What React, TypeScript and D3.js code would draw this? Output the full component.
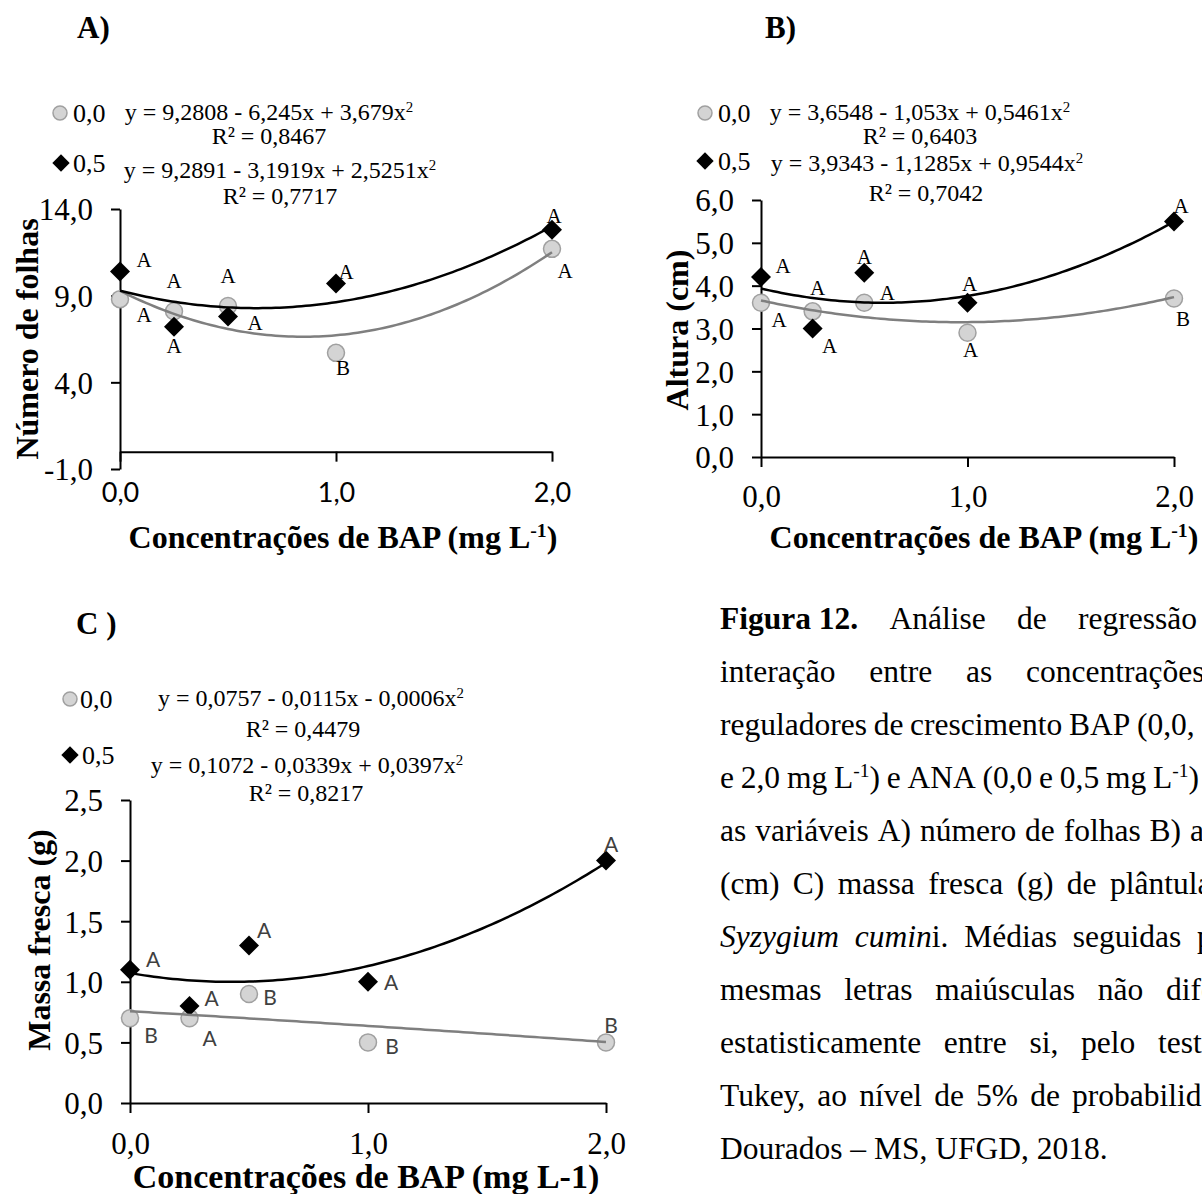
import { useRef, useEffect } from 'react';
import * as d3 from 'd3';

const SERIF = '"Liberation Serif", "Times New Roman", serif';
const SANS = 'Lato, "Open Sans", sans-serif';

// doses de BAP (mg L-1)
const bap = [0, 0.25, 0.5, 1, 2];

// A) número de folhas
const folhas00 = [8.8, 8.1, 8.4, 5.7, 11.7];
const folhas05 = [10.4, 7.2, 7.8, 9.7, 12.8];
const folhasLetras00 = ['A', 'A', 'A', 'B', 'A'];
const folhasLetras05 = ['A', 'A', 'A', 'A', 'A'];
const folhasFit00 = [9.2808, -6.245, 3.679];
const folhasFit05 = [9.2891, -3.1919, 2.5251];
const folhasEq00 = ['y = 9,2808 - 6,245x + 3,679x^2^', 'R² = 0,8467'];
const folhasEq05 = ['y = 9,2891 - 3,1919x + 2,5251x^2^', 'R² = 0,7717'];
const folhasTicks = [-1, 4, 9, 14];

// B) altura
const altura00 = [3.6, 3.4, 3.6, 2.9, 3.7];
const altura05 = [4.2, 3.0, 4.3, 3.6, 5.5];
const alturaLetras00 = ['A', 'A', 'A', 'A', 'B'];
const alturaLetras05 = ['A', 'A', 'A', 'A', 'A'];
const alturaFit00 = [3.6548, -1.053, 0.5461];
const alturaFit05 = [3.9343, -1.1285, 0.9544];
const alturaEq00 = ['y = 3,6548 - 1,053x + 0,5461x^2^', 'R² = 0,6403'];
const alturaEq05 = ['y = 3,9343 - 1,1285x + 0,9544x^2^', 'R² = 0,7042'];
const alturaTicks = [0, 1, 2, 3, 4, 5, 6];

// C) massa fresca (curvas no gráfico estão em escala x10 das equações)
const massa00 = [0.7, 0.7, 0.9, 0.5, 0.5];
const massa05 = [1.1, 0.8, 1.3, 1.0, 2.0];
const massaLetras00 = ['B', 'A', 'B', 'B', 'B'];
const massaLetras05 = ['A', 'A', 'A', 'A', 'A'];
const massaFit00 = [0.757, -0.115, -0.006];
const massaFit05 = [1.072, -0.339, 0.397];
const massaEq00 = ['y = 0,0757 - 0,0115x - 0,0006x^2^', 'R² = 0,4479'];
const massaEq05 = ['y = 0,1072 - 0,0339x + 0,0397x^2^', 'R² = 0,8217'];
const massaTicks = [0, 0.5, 1, 1.5, 2, 2.5];

const xTicks = [0, 1, 2];

const captionLines = [
  ['**Figura 12.**', 'Análise', 'de', 'regressão'],
  ['interação', 'entre', 'as', 'concentrações'],
  ['reguladores', 'de', 'crescimento', 'BAP', '(0,0,'],
  ['e', '2,0', 'mg', 'L^-1^)', 'e', 'ANA', '(0,0', 'e', '0,5', 'mg', 'L^-1^)'],
  ['as', 'variáveis', 'A)', 'número', 'de', 'folhas', 'B)', 'altura'],
  ['(cm)', 'C)', 'massa', 'fresca', '(g)', 'de', 'plântulas'],
  ['_Syzygium_', '_cumin_i.', 'Médias', 'seguidas', 'pelas'],
  ['mesmas', 'letras', 'maiúsculas', 'não', 'diferem'],
  ['estatisticamente', 'entre', 'si,', 'pelo', 'teste'],
  ['Tukey,', 'ao', 'nível', 'de', '5%', 'de', 'probabilidade'],
  ['Dourados – MS, UFGD, 2018.'],
];

// justified lines: where the last visible word starts (null = single run)
const captionLastX = [1078, 1026, 1137, 1153, 1190, 1110, 1197, 1166, 1158, 1072, null];
const CAPTION_SIZE = 31.5;

const fmt = (v: number) => d3.format('.1f')(v).replace('.', ',').replace('−', '-');
const poly = (c: number[], v: number) => c[0] + c[1] * v + c[2] * v * v;

// **bold**, _italic_, ^superscript^
function rich(text: any, str: string, size: number) {
  const parts = str.split(/(\*\*[^*]+\*\*|_[^_]+_|\^[^^]+\^)/).filter(s => s !== '');
  let raised = false;
  parts.forEach(s => {
    const t = text.append('tspan');
    if (s.startsWith('**')) t.attr('font-weight', 'bold').text(s.slice(2, -2));
    else if (s.startsWith('_')) t.attr('font-style', 'italic').text(s.slice(1, -1));
    else if (s.startsWith('^')) {
      t.attr('font-size', size * 0.62).attr('dy', -size * 0.36).text(s.slice(1, -1));
      raised = true;
      return;
    } else t.text(s);
    if (raised) { t.attr('dy', size * 0.36); raised = false; }
  });
}

const panels = [
  {
    tag: 'A)', tagX: 77, tagY: 27,
    xRange: [120, 552], yDomain: [-1, 14], yRange: [469, 209], yTicks: folhasTicks, xAxisAt: 0,
    xTickFont: SANS, xTickSize: 27, xLabelY: 493,
    letterFont: SERIF, letterColor: '#000',
    s00: folhas00, s05: folhas05, l00: folhasLetras00, l05: folhasLetras05,
    fit00: folhasFit00, fit05: folhasFit05, eq00: folhasEq00, eq05: folhasEq05,
    off00: [[24, 16], [0, -31], [0, -30], [7, 15], [13, 22]],
    off05: [[24, -12], [0, 19], [27, 6], [10, -12], [2, -14]],
    leg00: { mx: 60, my: 113, lx: 73, ex: 269, ey: 112, rx: 269, ry: 136 },
    leg05: { mx: 61, my: 163, lx: 73, ex: 280, ey: 170, rx: 280, ry: 196 },
    yTitle: 'Número de folhas', yTitleX: 27, yTitleY: 339,
    xTitle: 'Concentrações de BAP (mg L^-1^)', xTitleX: 343, xTitleY: 537, xTitleSize: 32,
  },
  {
    tag: 'B)', tagX: 765, tagY: 27,
    xRange: [761, 1174], yDomain: [0, 6], yRange: [457, 200], yTicks: alturaTicks, xAxisAt: 0,
    xTickFont: SERIF, xTickSize: 31, xLabelY: 496,
    letterFont: SERIF, letterColor: '#000',
    s00: altura00, s05: altura05, l00: alturaLetras00, l05: alturaLetras05,
    fit00: alturaFit00, fit05: alturaFit05, eq00: alturaEq00, eq05: alturaEq05,
    off00: [[18, 17], [5, -24], [23, -10], [3, 17], [9, 20]],
    off05: [[22, -11], [17, 17], [0, -16], [2, -19], [7, -16]],
    leg00: { mx: 705, my: 113, lx: 718, ex: 920, ey: 112, rx: 920, ry: 136 },
    leg05: { mx: 705, my: 161, lx: 718, ex: 927, ey: 163, rx: 926, ry: 193 },
    yTitle: 'Altura (cm)', yTitleX: 677, yTitleY: 330,
    xTitle: 'Concentrações de BAP (mg L^-1^)', xTitleX: 984, xTitleY: 537, xTitleSize: 32,
  },
  {
    tag: 'C )', tagX: 76, tagY: 623,
    xRange: [130, 606], yDomain: [0, 2.5], yRange: [1103, 800], yTicks: massaTicks, xAxisAt: 0,
    xTickFont: SERIF, xTickSize: 31, xLabelY: 1143,
    letterFont: SANS, letterColor: '#404040',
    s00: massa00, s05: massa05, l00: massaLetras00, l05: massaLetras05,
    fit00: massaFit00, fit05: massaFit05, eq00: massaEq00, eq05: massaEq05,
    off00: [[21, 17], [20, 20], [21, 4], [24, 4], [5, -17]],
    off05: [[23, -10], [22, -7], [15, -15], [23, 1], [5, -16]],
    leg00: { mx: 70, my: 699, lx: 80, ex: 311, ey: 698, rx: 303, ry: 729 },
    leg05: { mx: 70, my: 755, lx: 82, ex: 307, ey: 765, rx: 306, ry: 793 },
    yTitle: 'Massa fresca (g)', yTitleX: 39, yTitleY: 940,
    xTitle: 'Concentrações de BAP (mg L-1)', xTitleX: 366, xTitleY: 1176, xTitleSize: 34,
  },
];

const GRAY_FILL = '#d4d4d4';
const GRAY_STROKE = '#a0a0a0';
const GRAY_LINE = '#7f7f7f';
const diamond = d3.symbol(d3.symbolSquare, 200);
const diamondSmall = d3.symbol(d3.symbolSquare, 150);

function drawPanel(svg: any, p: any) {
  const x = d3.scaleLinear().domain([0, 2]).range(p.xRange);
  const y = d3.scaleLinear().domain(p.yDomain).range(p.yRange);
  const g = svg.append('g');
  const axisY = y(p.xAxisAt);

  g.append('text').attr('x', p.tagX).attr('y', p.tagY).attr('dy', '0.35em')
    .attr('font-family', SERIF).attr('font-size', 31).attr('font-weight', 'bold').text(p.tag);

  // Y axis
  g.append('g').attr('transform', `translate(${x(0)},0)`)
    .call(d3.axisLeft(y).tickValues(p.yTicks).tickSize(9).tickSizeOuter(0).tickPadding(18).tickFormat(fmt))
    .call((a: any) => a.select('.domain').attr('stroke', '#000').attr('stroke-width', 2))
    .call((a: any) => a.selectAll('.tick line').attr('stroke', '#000').attr('stroke-width', 2))
    .call((a: any) => a.selectAll('.tick text').attr('fill', '#000').attr('dy', '0.35em')
      .attr('font-family', SERIF).attr('font-size', 31));

  // X axis
  g.append('g').attr('transform', `translate(0,${axisY})`)
    .call(d3.axisBottom(x).tickValues(xTicks).tickSize(10).tickSizeOuter(0).tickFormat(fmt))
    .call((a: any) => a.select('.domain').attr('stroke', '#000').attr('stroke-width', 2))
    .call((a: any) => a.selectAll('.tick line').attr('stroke', '#000').attr('stroke-width', 2))
    .call((a: any) => a.selectAll('.tick text').attr('fill', '#000').attr('y', p.xLabelY - axisY)
      .attr('dy', '0.35em').attr('font-family', p.xTickFont).attr('font-size', p.xTickSize));

  // Axis titles
  g.append('text').attr('transform', `translate(${p.yTitleX},${p.yTitleY}) rotate(-90)`)
    .attr('text-anchor', 'middle').attr('dy', '0.35em')
    .attr('font-family', SERIF).attr('font-size', 32).attr('font-weight', 'bold').text(p.yTitle);
  const xt = g.append('text').attr('x', p.xTitleX).attr('y', p.xTitleY).attr('dy', '0.35em')
    .attr('text-anchor', 'middle').attr('font-family', SERIF).attr('font-size', p.xTitleSize)
    .attr('font-weight', 'bold');
  rich(xt, p.xTitle, p.xTitleSize);

  // Markers
  g.selectAll('circle.s00').data(p.s00).join('circle')
    .attr('cx', (_: number, i: number) => x(bap[i])).attr('cy', (d: number) => y(d)).attr('r', 8.5)
    .attr('fill', GRAY_FILL).attr('stroke', GRAY_STROKE).attr('stroke-width', 1.5);
  g.selectAll('path.s05').data(p.s05).join('path')
    .attr('d', diamond)
    .attr('transform', (d: number, i: number) => `translate(${x(bap[i])},${y(d)}) rotate(45)`)
    .attr('fill', '#000');

  // Trendlines
  const xs = d3.range(0, 2.0001, 0.02);
  const line = d3.line<number>().x(v => x(v));
  g.append('path').attr('d', line.y(v => y(poly(p.fit00, v)))(xs))
    .attr('fill', 'none').attr('stroke', GRAY_LINE).attr('stroke-width', 2.5);
  g.append('path').attr('d', line.y(v => y(poly(p.fit05, v)))(xs))
    .attr('fill', 'none').attr('stroke', '#000').attr('stroke-width', 2.5);

  // Tukey letters
  const letters = (vals: number[], lets: string[], off: number[][]) => {
    vals.forEach((v, i) => {
      g.append('text').attr('x', x(bap[i]) + off[i][0]).attr('y', y(v) + off[i][1])
        .attr('dy', '0.35em').attr('text-anchor', 'middle')
        .attr('font-family', p.letterFont).attr('font-size', 21).attr('fill', p.letterColor)
        .text(lets[i]);
    });
  };
  letters(p.s00, p.l00, p.off00);
  letters(p.s05, p.l05, p.off05);

  // Legend + equations
  const L0 = p.leg00, L1 = p.leg05;
  g.append('circle').attr('cx', L0.mx).attr('cy', L0.my).attr('r', 7)
    .attr('fill', GRAY_FILL).attr('stroke', GRAY_STROKE).attr('stroke-width', 1.5);
  g.append('path').attr('d', diamondSmall).attr('transform', `translate(${L1.mx},${L1.my}) rotate(45)`).attr('fill', '#000');
  [[L0, '0,0', p.eq00], [L1, '0,5', p.eq05]].forEach(([L, lab, eq]: any) => {
    g.append('text').attr('x', L.lx).attr('y', L.my).attr('dy', '0.35em')
      .attr('font-family', SERIF).attr('font-size', 26).text(lab);
    const e = g.append('text').attr('x', L.ex).attr('y', L.ey).attr('dy', '0.35em')
      .attr('text-anchor', 'middle').attr('font-family', SERIF).attr('font-size', 24);
    rich(e, eq[0], 24);
    g.append('text').attr('x', L.rx).attr('y', L.ry).attr('dy', '0.35em')
      .attr('text-anchor', 'middle').attr('font-family', SERIF).attr('font-size', 24).text(eq[1]);
  });
}

function drawCaption(svg: any) {
  const left = 720;
  const g = svg.append('g').attr('font-family', SERIF).attr('font-size', CAPTION_SIZE);
  captionLines.forEach((words, li) => {
    const yy = 618 + li * 53;
    const nodes = words.map(w => {
      const t = g.append('text').attr('x', left).attr('y', yy).attr('dy', '0.35em');
      rich(t, w, CAPTION_SIZE);
      return t;
    });
    const lastX = captionLastX[li];
    if (lastX == null || nodes.length < 2) return;
    // justify: spread the words so the last one starts where it does on the page
    const widths = nodes.map(t => (t.node() as SVGTextElement).getComputedTextLength());
    const used = d3.sum(widths.slice(0, -1));
    const gap = (lastX - left - used) / (nodes.length - 1);
    let cx = left;
    nodes.forEach((t, i) => {
      t.attr('x', cx);
      cx += widths[i] + gap;
    });
  });
}

export default function App() {
  const ref = useRef<SVGSVGElement>(null);

  useEffect(() => {
    if (!ref.current) return;
    const svg = d3.select(ref.current);
    svg.selectAll('*').remove();
    panels.forEach(p => drawPanel(svg, p));
    drawCaption(svg);
  }, []);

  return (
    <svg ref={ref} width={1202} height={1194}
      style={{ position: 'absolute', left: 0, top: 0, background: '#fff' }} />
  );
}
